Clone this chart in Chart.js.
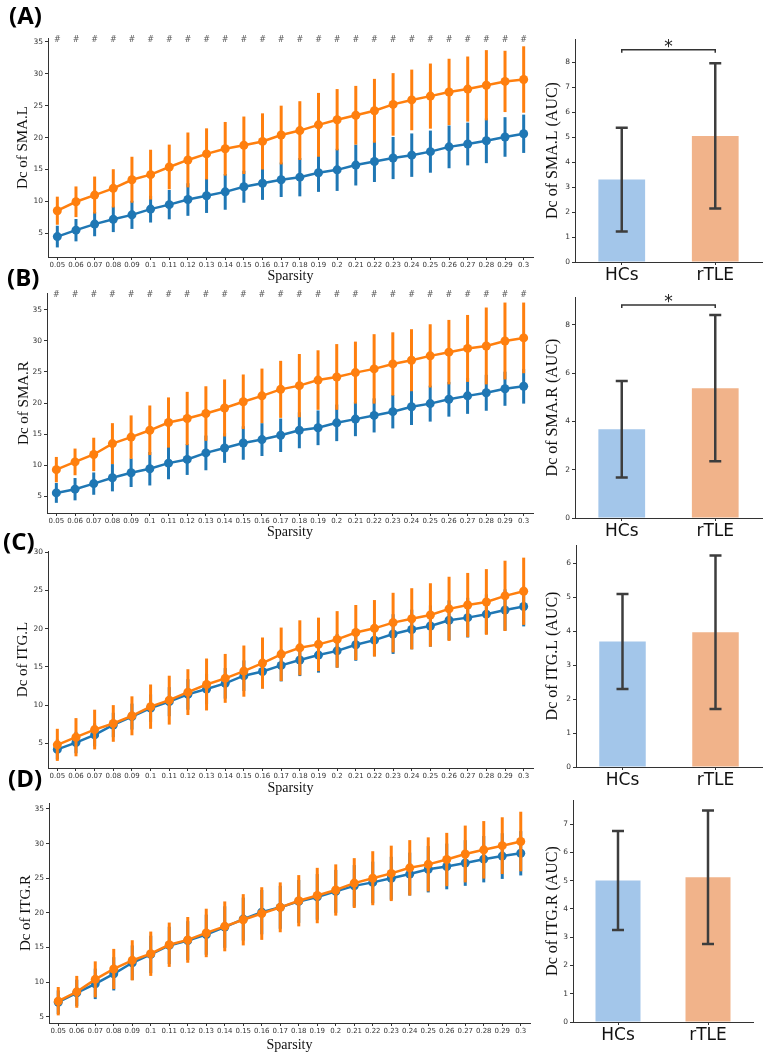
<!DOCTYPE html>
<html>
<head>
<meta charset="utf-8">
<script src="https://cdn.jsdelivr.net/npm/chart.js@4.4.0/dist/chart.umd.min.js"></script>
<style>
body{margin:0;background:#fff;}
#page{position:relative;width:767px;height:1057px;overflow:hidden;background:#fff;}
canvas{position:absolute;}
.tag{position:absolute;font:bold 24px "Open Sans",sans-serif;line-height:24px;color:#000;z-index:5;}
</style>
</head>
<body>
<div id="page">
  <div class="tag" style="left:9px;top:3px">(A)</div>
  <div class="tag" style="left:7px;top:265px">(B)</div>
  <div class="tag" style="left:3px;top:529px">(C)</div>
  <div class="tag" style="left:8px;top:766px">(D)</div>

  <canvas id="lineA" width="540" height="288" style="left:0;top:0"></canvas>
  <canvas id="barA" width="227" height="288" style="left:540px;top:0"></canvas>
  <canvas id="lineB" width="540" height="267" style="left:0;top:280px"></canvas>
  <canvas id="barB" width="227" height="267" style="left:540px;top:280px"></canvas>
  <canvas id="lineC" width="540" height="270" style="left:0;top:530px"></canvas>
  <canvas id="barC" width="227" height="270" style="left:540px;top:530px"></canvas>
  <canvas id="lineD" width="540" height="272" style="left:0;top:785px"></canvas>
  <canvas id="barD" width="227" height="272" style="left:540px;top:785px"></canvas>
</div>
<script>
// --- data ---
var sparsity = ["0.05","0.06","0.07","0.08","0.09","0.1","0.11","0.12","0.13","0.14","0.15","0.16","0.17",
                "0.18","0.19","0.2","0.21","0.22","0.23","0.24","0.25","0.26","0.27","0.28","0.29","0.3"];
var groups = ["HCs","rTLE"];

// (A) SMA.L
var smaL_hc     = [4.5,5.5,6.45,7.2,7.9,8.8,9.5,10.3,10.9,11.5,12.3,12.85,13.4,13.8,14.5,14.95,15.7,16.25,16.8,17.25,17.8,18.55,19.0,19.5,20.1,20.6];
var smaL_hcSd   = [1.7,1.75,1.9,2.0,2.2,2.1,2.3,2.55,2.7,2.8,2.5,2.6,2.7,3.0,3.0,3.3,3.2,3.2,3.3,3.4,3.3,3.35,3.35,3.5,3.1,3.0];
var smaL_tle    = [8.55,9.95,11.0,12.05,13.4,14.2,15.4,16.5,17.45,18.25,18.8,19.4,20.4,21.1,22.0,22.8,23.5,24.2,25.2,25.9,26.5,27.15,27.6,28.2,28.8,29.1];
var smaL_tleSd  = [2.2,2.4,2.9,3.0,3.6,3.9,3.5,4.3,4.0,4.2,4.5,4.4,4.6,4.6,5.0,4.8,4.6,5.0,4.9,4.75,5.1,5.2,5.1,5.5,4.8,5.2];
var smaL_marks  = ["#","#","#","#","#","#","#","#","#","#","#","#","#","#","#","#","#","#","#","#","#","#","#","#","#","#"];
var smaL_auc    = [3.3,5.05];
var smaL_aucSd  = [2.08,2.91];

// (B) SMA.R
var smaR_hc     = [5.5,6.1,7.0,7.95,8.75,9.4,10.3,10.9,11.95,12.75,13.55,14.1,14.8,15.6,16.0,16.8,17.4,18.0,18.6,19.4,19.9,20.6,21.15,21.65,22.3,22.7];
var smaR_hcSd   = [1.6,1.8,1.8,2.2,2.3,2.7,2.6,2.5,2.8,2.4,2.7,2.65,2.7,2.9,2.8,2.95,2.75,2.75,2.7,2.95,2.9,2.8,2.9,2.9,2.75,2.8];
var smaR_tle    = [9.25,10.5,11.7,13.45,14.5,15.6,16.85,17.5,18.3,19.2,20.2,21.15,22.2,22.8,23.7,24.2,24.9,25.5,26.3,26.9,27.6,28.2,28.8,29.2,30.0,30.5];
var smaR_tleSd  = [2.05,2.15,2.7,3.3,3.5,4.0,4.05,4.3,4.4,4.6,4.4,4.4,4.6,5.1,4.8,5.3,5.0,5.6,5.1,5.0,5.1,5.2,5.4,6.2,6.2,5.7];
var smaR_marks  = ["#","#","#","#","#","#","#","#","#","#","#","#","#","#","#","#","#","#","#","#","#","#","#","#","#","#"];
var smaR_auc    = [3.68,5.38];
var smaR_aucSd  = [2.0,3.03];

// (C) ITG.L
var itgL_hc     = [4.2,5.1,6.1,7.4,8.5,9.6,10.45,11.4,12.1,12.85,13.85,14.4,15.2,15.9,16.55,17.1,17.9,18.5,19.3,19.9,20.35,21.1,21.45,21.9,22.45,22.9];
var itgL_hcSd   = [1.3,1.4,1.5,1.6,1.7,1.8,1.9,2.0,2.0,2.0,2.0,2.2,2.1,2.1,2.3,2.2,2.1,2.1,2.6,2.6,2.7,2.6,2.6,2.6,2.7,2.6];
var itgL_tle    = [4.8,5.8,6.8,7.6,8.6,9.8,10.65,11.7,12.7,13.5,14.45,15.5,16.65,17.5,17.95,18.6,19.5,20.05,20.8,21.3,21.8,22.6,23.1,23.5,24.3,24.9];
var itgL_tleSd  = [2.1,2.5,2.6,2.4,2.55,2.9,3.2,3.0,3.4,3.2,3.35,3.35,3.5,3.6,3.5,3.7,3.6,3.7,3.9,4.0,4.15,4.2,4.2,4.3,4.6,4.4];
var itgL_auc    = [3.7,3.97];
var itgL_aucSd  = [1.4,2.26];

// (D) ITG.R
var itgR_hc     = [7.1,8.45,9.75,11.2,12.8,14.0,15.3,16.0,16.85,17.95,19.1,20.1,20.8,21.65,22.3,23.1,23.9,24.4,25.0,25.6,26.3,26.7,27.2,27.75,28.2,28.6];
var itgR_hcSd   = [1.7,1.9,2.2,2.4,2.5,2.7,2.7,2.8,2.9,3.0,3.1,3.2,3.1,3.1,3.3,3.1,3.0,3.0,3.1,3.1,3.35,3.3,3.3,3.35,3.3,3.2];
var itgR_tle    = [7.25,8.6,10.4,11.9,13.15,14.1,15.4,16.1,17.1,18.05,19.0,19.9,20.8,21.75,22.5,23.3,24.3,25.0,25.7,26.5,27.0,27.7,28.5,29.1,29.7,30.3];
var itgR_tleSd  = [2.05,2.3,2.6,2.9,2.9,3.2,3.2,3.3,3.5,3.6,3.7,3.8,3.6,3.7,4.0,3.7,3.6,3.9,4.0,4.0,3.9,3.85,4.1,4.15,4.1,4.3];
var itgR_auc    = [5.0,5.12];
var itgR_aucSd  = [1.75,2.36];

// tick values
var ticks5to35 = [5,10,15,20,25,30,35];
var ticks5to30 = [5,10,15,20,25,30];
var ticks0to8  = [0,1,2,3,4,5,6,7,8];
var ticks0to8e = [0,2,4,6,8];
var ticks0to6  = [0,1,2,3,4,5,6];
var ticks0to7  = [0,1,2,3,4,5,6,7];

var BLUE = '#1f77b4', ORANGE = '#ff7f0e';
var BAR_BLUE = '#a3c6ea', BAR_ORANGE = '#f1b38a';
var AXIS = '#333';

// error bars: under the line for points, on top of the bar for bars
var errorBars = {
    id: 'errorBars',
    beforeDatasetDraw: function(chart, args){ if(!chart.data.datasets[args.index].errOnTop) drawErr(chart, args); },
    afterDatasetDraw: function(chart, args){ if(chart.data.datasets[args.index].errOnTop) drawErr(chart, args); }
};
function drawErr(chart, args){
    var ds = chart.data.datasets[args.index];
    if(!ds.errs) return;
    var ctx = chart.ctx, ys = chart.scales.y, pts = args.meta.data;
    ctx.save();
    ctx.strokeStyle = ds.errColor || ds.borderColor;
    ctx.lineWidth = ds.errWidth || 3;
    for(var i=0;i<pts.length;i++){
        var x = pts[i].x;
        var v = ds.data[i], e = ds.errs[i];
        var y1 = ys.getPixelForValue(v - e), y2 = ys.getPixelForValue(v + e);
        ctx.beginPath(); ctx.moveTo(x, y1); ctx.lineTo(x, y2); ctx.stroke();
        if(ds.cap){
            ctx.beginPath();
            ctx.moveTo(x - ds.cap, y1); ctx.lineTo(x + ds.cap, y1);
            ctx.moveTo(x - ds.cap, y2); ctx.lineTo(x + ds.cap, y2);
            ctx.stroke();
        }
    }
    ctx.restore();
}

// "#" marks above each sparsity, and the * bracket of the bar plots
var sigMarks = {
    id: 'sigMarks',
    afterDraw: function(chart, args, opts){
        var ctx = chart.ctx, xs = chart.scales.x, ys = chart.scales.y;
        ctx.save();
        if(opts.marks){
            ctx.fillStyle = '#555';
            ctx.font = '8px "DejaVu Sans"';
            ctx.textAlign = 'center';
            ctx.textBaseline = 'middle';
            for(var i=0;i<opts.marks.length;i++){
                if(opts.marks[i]) ctx.fillText(opts.marks[i], xs.getPixelForValue(i), chart.chartArea.top + 2);
            }
        }
        if(opts.bracket != null){
            var x1 = xs.getPixelForValue(0), x2 = xs.getPixelForValue(1);
            var y = ys.getPixelForValue(opts.bracket);
            ctx.strokeStyle = AXIS;
            ctx.lineWidth = 1.5;
            ctx.beginPath();
            ctx.moveTo(x1, y + 3); ctx.lineTo(x1, y); ctx.lineTo(x2, y); ctx.lineTo(x2, y + 3);
            ctx.stroke();
            ctx.fillStyle = '#222';
            ctx.font = '17px "DejaVu Sans"';
            ctx.textAlign = 'center';
            ctx.textBaseline = 'alphabetic';
            ctx.fillText('*', (x1 + x2) / 2, y + 2);
        }
        ctx.restore();
    }
};

function fixedTicks(arr){
    return function(s){ s.ticks = arr.map(function(v){ return {value: v}; }); };
}

function lineChart(id, c){
    return new Chart(document.getElementById(id), {
        type: 'line',
        data: {
            labels: sparsity,
            datasets: [
                { label: 'HCs', data: c.hc, errs: c.hcSd, borderColor: BLUE, backgroundColor: BLUE,
                  pointBackgroundColor: BLUE, pointBorderWidth: 0, pointRadius: 4.5, borderWidth: 2.5, order: 1 },
                { label: 'rTLE', data: c.tle, errs: c.tleSd, borderColor: ORANGE, backgroundColor: ORANGE,
                  pointBackgroundColor: ORANGE, pointBorderWidth: 0, pointRadius: 4.5, borderWidth: 2.5, order: 0 }
            ]
        },
        options: {
            responsive: false,
            animation: false,
            layout: { padding: { top: c.pt, right: c.pr, left: 0, bottom: 0 } },
            plugins: { legend: { display: false }, tooltip: { enabled: false }, sigMarks: { marks: c.marks } },
            scales: {
                x: {
                    type: 'category', offset: true,
                    afterFit: function(s){ s.height = c.xh; },
                    grid: { display: true, drawOnChartArea: false, drawTicks: true, tickLength: 3, color: AXIS, offset: false },
                    border: { display: true, color: AXIS, width: 1 },
                    ticks: { autoSkip: false, maxRotation: 0, minRotation: 0, padding: 1, color: AXIS,
                             font: { family: 'DejaVu Sans', size: 7 } },
                    title: { display: true, text: 'Sparsity', color: '#111',
                             font: { family: 'Liberation Serif', size: 14 }, padding: { top: 0, bottom: c.xpb } }
                },
                y: {
                    min: c.ymin, max: c.ymax,
                    afterFit: function(s){ s.width = c.yw; },
                    afterBuildTicks: fixedTicks(c.ticks),
                    grid: { display: true, drawOnChartArea: false, drawTicks: true, tickLength: 3, color: AXIS },
                    border: { display: true, color: AXIS, width: 1 },
                    ticks: { padding: 2, color: AXIS, font: { family: 'DejaVu Sans', size: 7.5 } },
                    title: { display: true, text: c.ylab, color: '#111',
                             font: { family: 'Liberation Serif', size: 15 }, padding: { top: c.tp, bottom: 0 } }
                }
            }
        },
        plugins: [errorBars, sigMarks]
    });
}

function barChart(id, c){
    return new Chart(document.getElementById(id), {
        type: 'bar',
        data: {
            labels: groups,
            datasets: [{
                data: c.auc, errs: c.sd, errOnTop: true, errColor: '#3d3d3d', errWidth: 2.5, cap: 6,
                backgroundColor: [BAR_BLUE, BAR_ORANGE], borderWidth: 0,
                categoryPercentage: 1, barPercentage: 0.5
            }]
        },
        options: {
            responsive: false,
            animation: false,
            layout: { padding: { top: c.pt, right: c.pr, left: 0, bottom: 0 } },
            plugins: { legend: { display: false }, tooltip: { enabled: false }, sigMarks: { bracket: c.bracket } },
            scales: {
                x: {
                    type: 'category', offset: true,
                    afterFit: function(s){ s.height = c.xh; },
                    grid: { display: true, drawOnChartArea: false, drawTicks: true, tickLength: 3, color: AXIS, offset: false },
                    border: { display: true, color: AXIS, width: 1 },
                    ticks: { padding: 0, color: '#111', font: { family: 'DejaVu Sans', size: 17 } }
                },
                y: {
                    min: 0, max: c.ymax,
                    afterFit: function(s){ s.width = c.yw; },
                    afterBuildTicks: fixedTicks(c.ticks),
                    grid: { display: true, drawOnChartArea: false, drawTicks: true, tickLength: 3, color: AXIS },
                    border: { display: true, color: AXIS, width: 1 },
                    ticks: { padding: 2, color: AXIS, font: { family: 'DejaVu Sans', size: 7.5 } },
                    title: { display: true, text: c.ylab, color: '#111',
                             font: { family: 'Liberation Serif', size: 16 }, padding: { top: c.tp, bottom: 0 } }
                }
            }
        },
        plugins: [errorBars, sigMarks]
    });
}

lineChart('lineA', { hc: smaL_hc, hcSd: smaL_hcSd, tle: smaL_tle, tleSd: smaL_tleSd, marks: smaL_marks,
    ylab: 'Dc of SMA.L', ymin: 1.3, ymax: 35.6, ticks: ticks5to35, pt: 38, pr: 7, yw: 48, xh: 31, tp: 14, xpb: 3.6 });
barChart('barA', { auc: smaL_auc, sd: smaL_aucSd, bracket: 8.5, ylab: 'Dc of SMA.L (AUC)',
    ymax: 8.93, ticks: ticks0to8, pt: 39, pr: 5, yw: 35, xh: 26, tp: 3.4 });

lineChart('lineB', { hc: smaR_hc, hcSd: smaR_hcSd, tle: smaR_tle, tleSd: smaR_tleSd, marks: smaR_marks,
    ylab: 'Dc of SMA.R', ymin: 2.26, ymax: 37.74, ticks: ticks5to35, pt: 13, pr: 7, yw: 47, xh: 34, tp: 15, xpb: 6.6 });
barChart('barB', { auc: smaR_auc, sd: smaR_aucSd, bracket: 8.83, ylab: 'Dc of SMA.R (AUC)',
    ymax: 9.16, ticks: ticks0to8e, pt: 17, pr: 5, yw: 35, xh: 29, tp: 3.4 });

lineChart('lineC', { hc: itgL_hc, hcSd: itgL_hcSd, tle: itgL_tle, tleSd: itgL_tleSd, marks: null,
    ylab: 'Dc of ITG.L', ymin: 1.77, ymax: 30.17, ticks: ticks5to30, pt: 21, pr: 7, yw: 48, xh: 32, tp: 14.5, xpb: 3.6 });
barChart('barC', { auc: itgL_auc, sd: itgL_aucSd, bracket: null, ylab: 'Dc of ITG.L (AUC)',
    ymax: 6.54, ticks: ticks0to6, pt: 15, pr: 5, yw: 36, xh: 33, tp: 3.4 });

lineChart('lineD', { hc: itgR_hc, hcSd: itgR_hcSd, tle: itgR_tle, tleSd: itgR_tleSd, marks: null,
    ylab: 'Dc of ITG.R', ymin: 4.1, ymax: 35.86, ticks: ticks5to35, pt: 18, pr: 10, yw: 49, xh: 34, tp: 17, xpb: 3.6 });
barChart('barD', { auc: itgR_auc, sd: itgR_aucSd, bracket: null, ylab: 'Dc of ITG.R (AUC)',
    ymax: 7.85, ticks: ticks0to7, pt: 15, pr: 14, yw: 33, xh: 35, tp: 2.9 });
</script>
</body>
</html>
